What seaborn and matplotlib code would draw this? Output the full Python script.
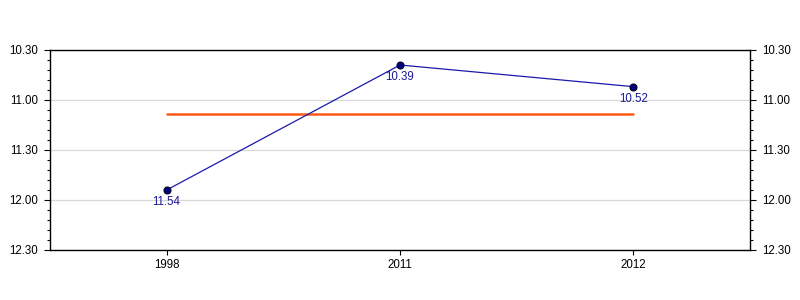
import matplotlib
matplotlib.use("Agg")
import matplotlib.pyplot as plt
import seaborn as sns
import pandas as pd
import numpy as np
from matplotlib.ticker import MultipleLocator, FuncFormatter

years = ["1998", "2011", "2012"]
times = ["11.54", "10.39", "10.52"]  # minutes.seconds

def to_minutes(s):
    m, sec = s.split(".")
    return int(m) + int(sec) / 60.0

values = [to_minutes(t) for t in times]
df = pd.DataFrame({"year": years, "value": values, "label": times})
avg = float(np.mean(values))

sns.set_style("white")
plt.rcParams["font.family"] = ["Liberation Sans", "DejaVu Sans"]

fig = plt.figure(figsize=(8, 3), dpi=100)
ax = fig.add_axes([50 / 800, 50 / 300, 700 / 800, 200 / 300])

ax.plot([0, 2], [avg, avg], color="#ff5a14", linewidth=1.8, zorder=2)
sns.lineplot(data=df, x="year", y="value", ax=ax, color="#1a1aaa", linewidth=0.9,
             marker="o", markersize=5, markerfacecolor="#000080",
             markeredgecolor="#000022", markeredgewidth=0.8, sort=False, zorder=3)

for i, (v, lab) in enumerate(zip(values, times)):
    ax.annotate(lab, (i, v), xytext=(0, -4.5), textcoords="offset points",
                ha="center", va="top", fontsize=8.3, color="#1a1a99")

ax.set_xlim(-0.5, 2.5)
ax.set_ylim(12.5, 10.5)
ax.yaxis.set_major_locator(MultipleLocator(0.5))
ax.yaxis.set_minor_locator(MultipleLocator(0.1))

def fmt(v, pos):
    total = int(round(v * 60))
    return "%d.%02d" % (total // 60, total % 60)

ax.yaxis.set_major_formatter(FuncFormatter(fmt))
ax.grid(axis="y", which="major", color="#d8d8d8", linewidth=0.9)
ax.set_axisbelow(True)
ax.set_xlabel("")
ax.set_ylabel("")

for s in ax.spines.values():
    s.set_visible(True)
    s.set_color("black")
    s.set_linewidth(1.0)

ax.tick_params(axis="y", which="major", length=4.5, width=0.8, direction="out",
               left=True, right=True, labelleft=True, labelright=True,
               labelsize=8.3, pad=4, colors="black")
ax.tick_params(axis="y", which="minor", length=2.5, width=0.8, direction="out",
               left=True, right=True, colors="black")
ax.tick_params(axis="x", which="major", length=3.6, width=0.8, direction="out",
               bottom=True, labelsize=8.3, pad=3, colors="black")

fig.savefig("out.png", dpi=100)
